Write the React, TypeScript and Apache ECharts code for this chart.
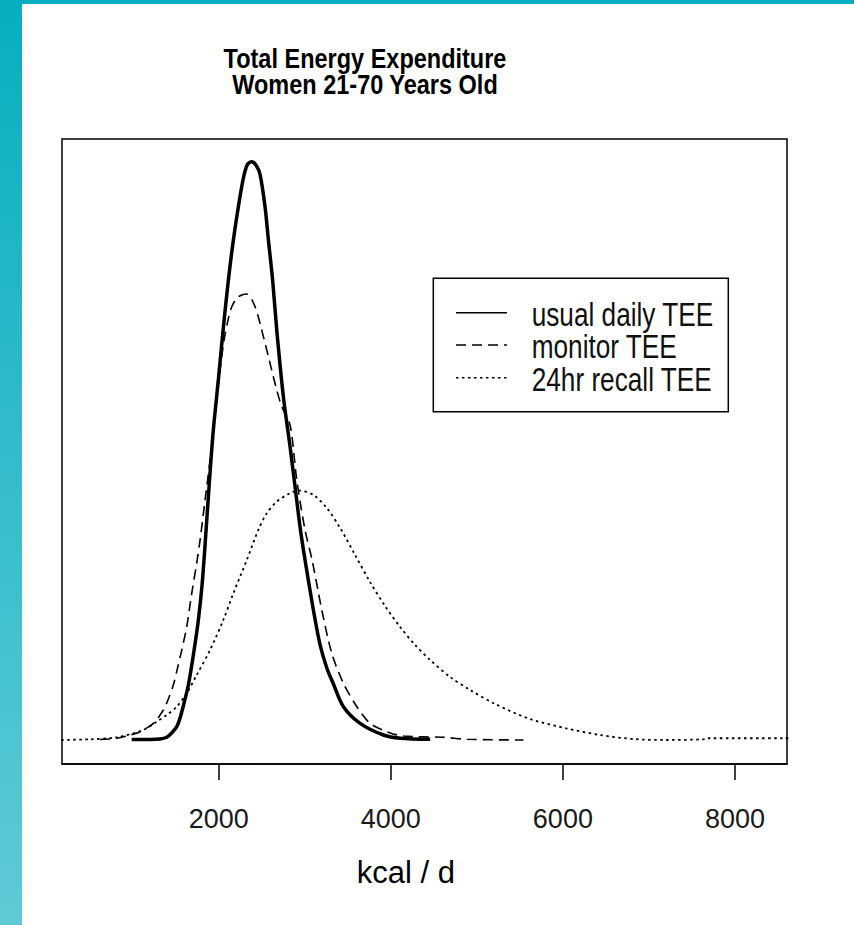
import React, { useEffect, useRef } from "react";
import * as echarts from "echarts";

// ---- text ----
const titleLines = ["Total Energy Expenditure", "Women 21-70 Years Old"];
const xAxisTitle = "kcal / d";
const seriesNames = ["usual daily TEE", "monitor TEE", "24hr recall TEE"];

// ---- axis ----
const xTicks = [2000, 4000, 6000, 8000];
const xMin = 178;
const xMax = 8605;
const yMin = -0.7295;
const yMax = 11.229;

// ---- series values: [kcal/d, density x 1e4] ----
const usualDailyTEE: number[][] = [
  [988, 0.026], [1201, 0.026], [1317, 0.035], [1395, 0.067], [1453, 0.147],
  [1512, 0.265], [1550, 0.427], [1588, 0.651], [1647, 1.043], [1705, 1.603],
  [1763, 2.256], [1806, 2.909], [1841, 3.655], [1891, 4.83], [1937, 5.8],
  [1995, 6.733], [2053, 7.703], [2112, 8.599], [2170, 9.345], [2228, 9.966],
  [2286, 10.5], [2335, 10.76], [2384, 10.806], [2434, 10.74], [2480, 10.57],
  [2538, 9.966], [2577, 9.345], [2626, 8.599], [2674, 7.666], [2751, 6.422],
  [2829, 5.489], [2887, 4.743], [2945, 3.991], [3003, 3.375], [3100, 2.442],
  [3178, 1.79], [3256, 1.36], [3333, 1.062], [3449, 0.638], [3643, 0.328],
  [3914, 0.11], [4108, 0.049], [4457, 0.03],
];

const monitorTEE: number[][] = [
  [620, 0.026], [814, 0.049], [969, 0.11], [1085, 0.172], [1240, 0.328],
  [1356, 0.576], [1414, 0.782], [1472, 1.043], [1521, 1.36], [1570, 1.696],
  [1628, 2.131], [1686, 2.754], [1744, 3.319], [1783, 3.748], [1841, 4.494],
  [1899, 5.24], [1957, 6.08], [2015, 6.92], [2062, 7.479], [2108, 7.852],
  [2155, 8.114], [2213, 8.263], [2267, 8.319], [2326, 8.338], [2422, 8.101],
  [2519, 7.541], [2577, 7.168], [2674, 6.547], [2733, 6.235], [2829, 5.894],
  [2907, 4.868], [3003, 3.935], [3085, 3.375], [3198, 2.442], [3314, 1.634],
  [3449, 1.075], [3605, 0.638], [3759, 0.328], [3953, 0.172], [4147, 0.091],
  [4612, 0.067], [4884, 0.03], [5542, 0.017],
];

const recallTEE: number[][] = [
  [100, 0.017], [505, 0.03], [814, 0.067], [1123, 0.203], [1279, 0.358],
  [1400, 0.49], [1512, 0.638], [1628, 0.888], [1744, 1.23], [1899, 1.696],
  [2053, 2.256], [2170, 2.754], [2326, 3.375], [2460, 3.935], [2558, 4.246],
  [2674, 4.463], [2829, 4.62], [2945, 4.668], [3100, 4.588], [3256, 4.345],
  [3411, 3.972], [3585, 3.468], [3759, 2.964], [3933, 2.517], [4108, 2.125],
  [4282, 1.789], [4457, 1.509], [4690, 1.192], [4922, 0.95], [5213, 0.688],
  [5619, 0.408], [6049, 0.231], [6433, 0.11], [6816, 0.035], [7209, 0.017],
  [7635, 0.03], [7674, 0.049], [8565, 0.049], [8800, 0.049],
];

const FONT = "'Liberation Sans', Arial, Helvetica, sans-serif";
const dashPattern = [10, 6];
const dotPattern = [2.5, 3.5];

export default function App() {
  const ref = useRef<HTMLDivElement>(null);

  useEffect(() => {
    if (!ref.current) return;
    const chart = echarts.init(ref.current, null, { renderer: "svg" });

    const lineStyles = [
      { color: "#000", width: 3.5, type: "solid" as any },
      { color: "#000", width: 1.6, type: dashPattern as any },
      { color: "#000", width: 1.8, type: dotPattern as any },
    ];
    const legendDash = [null, dashPattern, dotPattern];
    const legendRowsY = [312.7, 345, 377.7];

    const legendGraphics: any[] = [
      {
        type: "rect",
        shape: { x: 433.3, y: 278.3, width: 295, height: 133.4 },
        style: { fill: "#fff", stroke: "#000", lineWidth: 1.5 },
        silent: true,
        z: 10,
      },
    ];
    seriesNames.forEach((name, i) => {
      legendGraphics.push({
        type: "line",
        shape: { x1: 456, y1: legendRowsY[i], x2: 507, y2: legendRowsY[i] },
        style: {
          stroke: "#000",
          lineWidth: 1.6,
          lineDash: legendDash[i] || undefined,
        },
        silent: true,
        z: 11,
      });
      legendGraphics.push({
        type: "text",
        x: 531.7,
        y: legendRowsY[i] + 1.5,
        scaleY: 1.25,
        style: {
          text: name,
          fontSize: 26.2,
          fontFamily: FONT,
          fill: "#111",
          align: "left",
          verticalAlign: "middle",
        },
        silent: true,
        z: 11,
      });
    });

    const hiddenY = {
      type: "value",
      axisLine: { show: false },
      axisTick: { show: false },
      axisLabel: { show: false },
      splitLine: { show: false },
    };

    const option: any = {
      animation: false,
      backgroundColor: "#fff",
      // grid reaches down to the tick ends; the plot box is drawn as a rect
      grid: {
        left: 62,
        top: 139,
        width: 725,
        height: 641,
        show: false,
        containLabel: false,
      },
      xAxis: {
        type: "value",
        min: xMin,
        max: xMax,
        axisLine: {
          show: true,
          onZero: true,
          onZeroAxisIndex: 0,
          lineStyle: { color: "#000", width: 1.5 },
        },
        axisTick: {
          show: true,
          length: 16,
          customValues: xTicks,
          lineStyle: { color: "#000", width: 1.5 },
        },
        axisLabel: {
          customValues: xTicks,
          formatter: (v: number) => String(v),
          fontSize: 27,
          fontFamily: FONT,
          color: "#1a1a1a",
          margin: 25,
        },
        splitLine: { show: false },
      },
      yAxis: [
        // positions the x axis line at the bottom of the plot box
        { ...hiddenY, min: -16, max: 625 },
        // density axis
        { ...hiddenY, min: yMin, max: yMax },
      ],
      series: [usualDailyTEE, monitorTEE, recallTEE].map((data, i) => ({
        type: "line",
        name: seriesNames[i],
        data,
        yAxisIndex: 1,
        symbol: "none",
        smooth: 0.3,
        lineStyle: lineStyles[i],
        z: 5 - i,
      })),
      graphic: [
        {
          type: "rect",
          shape: { x: 0, y: 0, width: 22, height: 925 },
          style: {
            fill: new echarts.graphic.LinearGradient(0, 0, 0, 1, [
              { offset: 0, color: "#07AEC0" },
              { offset: 1, color: "#5FCAD6" },
            ]),
          },
          silent: true,
        },
        {
          type: "rect",
          shape: { x: 0, y: 0, width: 854, height: 4 },
          style: { fill: "#07AEC0" },
          silent: true,
        },
        {
          type: "rect",
          shape: { x: 62, y: 139, width: 725, height: 625 },
          style: { fill: "transparent", stroke: "#000", lineWidth: 1.5 },
          silent: true,
          z: 1,
        },
        ...titleLines.map((t, i) => ({
          type: "text",
          x: 365,
          y: 58.3 + i * 26,
          scaleY: 1.15,
          style: {
            text: t,
            fontSize: 23.5,
            fontWeight: "bold",
            fontFamily: FONT,
            fill: "#000",
            align: "center",
            verticalAlign: "middle",
          },
          silent: true,
        })),
        {
          type: "text",
          x: 405.8,
          y: 872.7,
          style: {
            text: xAxisTitle,
            fontSize: 31,
            fontFamily: FONT,
            fill: "#000",
            align: "center",
            verticalAlign: "middle",
          },
          silent: true,
        },
        ...legendGraphics,
      ],
    };

    chart.setOption(option);
    return () => chart.dispose();
  }, []);

  return (
    <div
      ref={ref}
      style={{
        position: "absolute",
        left: 0,
        top: 0,
        width: 854,
        height: 925,
        background: "#fff",
      }}
    />
  );
}
